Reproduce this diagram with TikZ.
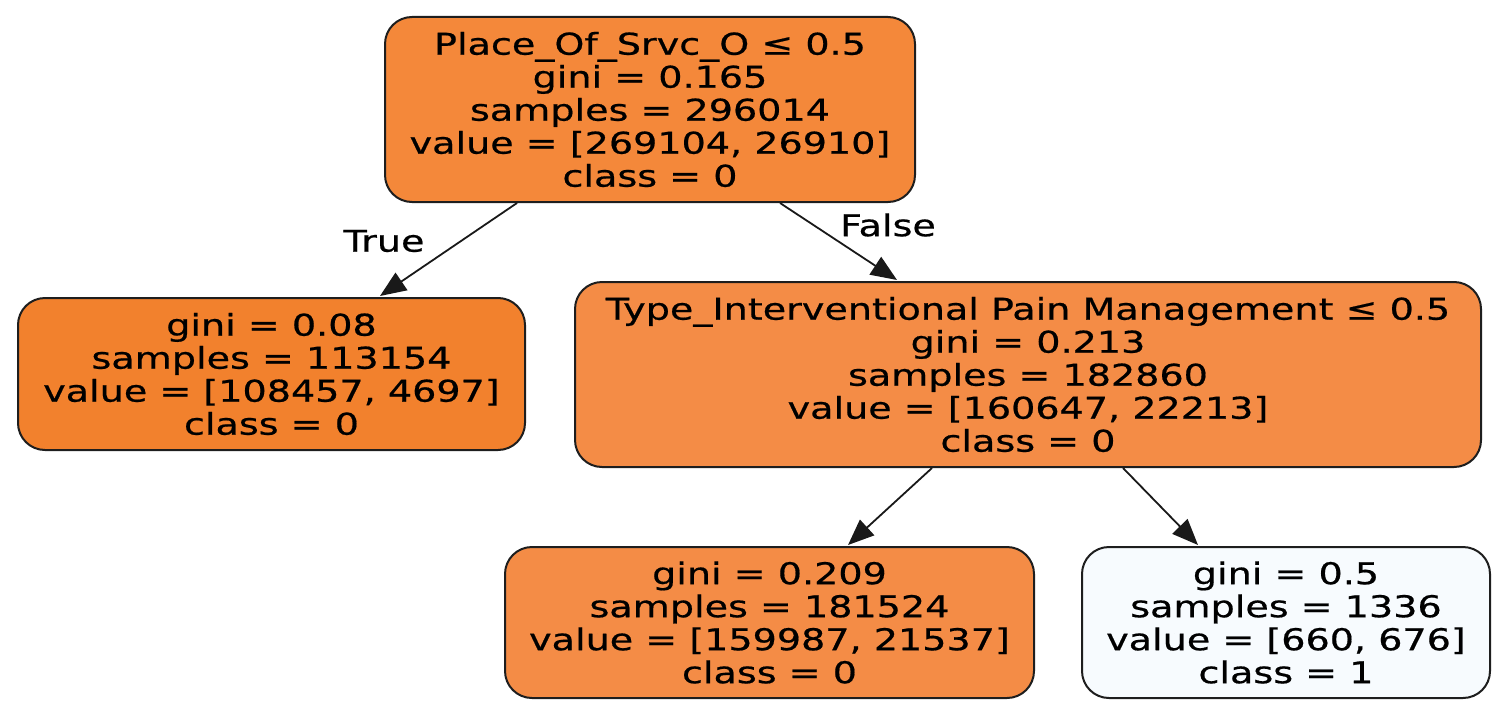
\documentclass[tikz,border=0pt]{standalone}
\usepackage{fontspec}
\setmainfont{DejaVu Sans}[FakeStretch=1.27,FakeBold=0.6]
\usetikzlibrary{arrows.meta,calc}
\definecolor{c0a}{RGB}{244,136,58}
\definecolor{c0b}{RGB}{242,129,45}
\definecolor{c0c}{RGB}{244,140,70}
\definecolor{c1a}{RGB}{247,251,254}
\definecolor{edgec}{RGB}{30,30,30}
\tikzset{
  box/.style={draw=edgec, line width=2pt, rounded corners=27pt, inner sep=0pt,
    align=center, font=\fontsize{30}{33}\selectfont},
  arr/.style={draw=black!90, line width=1.8pt, -{Triangle[length=26pt,width=21pt]}},
  lbl/.style={font=\fontsize{30}{33}\selectfont, inner sep=0pt}
}
\begin{document}
\begin{tikzpicture}[x=1pt,y=-1pt]
\useasboundingbox (0,0) rectangle (1506,717);
\node[box, fill=c0a, minimum width=530pt, minimum height=185pt] (root) at (650,109.5)
  {Place\_Of\_Srvc\_O ≤ 0.5\\gini = 0.165\\samples = 296014\\value = [269104, 26910]\\class = 0};
\node[box, fill=c0b, minimum width=507pt, minimum height=152pt] (left) at (271.5,374)
  {gini = 0.08\\samples = 113154\\value = [108457, 4697]\\class = 0};
\node[box, fill=c0c, minimum width=906pt, minimum height=185pt] (mid) at (1028,374.5)
  {Type\_Interventional Pain Management ≤ 0.5\\gini = 0.213\\samples = 182860\\value = [160647, 22213]\\class = 0};
\node[box, fill=c0c, minimum width=529pt, minimum height=151pt] (bl) at (769.5,622.5)
  {gini = 0.209\\samples = 181524\\value = [159987, 21537]\\class = 0};
\node[box, fill=c1a, minimum width=408pt, minimum height=151pt] (br) at (1286,622.5)
  {gini = 0.5\\samples = 1336\\value = [660, 676]\\class = 1};
\coordinate (r1) at ($(root.south)+(-133,0)$);
\coordinate (r2) at ($(root.south)+(130,0)$);
\coordinate (m1) at ($(mid.south)+(-96,0)$);
\coordinate (m2) at ($(mid.south)+(95,0)$);
\draw[arr] (r1) -- ($(left.north)+(108.5,-1)$);
\draw[arr] (r2) -- ($(mid.north)+(-131,-1)$);
\draw[arr] (m1) -- ($(bl.north)+(78.5,-1)$);
\draw[arr] (m2) -- ($(br.north)+(-88,-1)$);
\node[lbl] (tl) at (384,241) {True};
\node[lbl] (fl) at (888,225) {False};
\end{tikzpicture}
\end{document}
